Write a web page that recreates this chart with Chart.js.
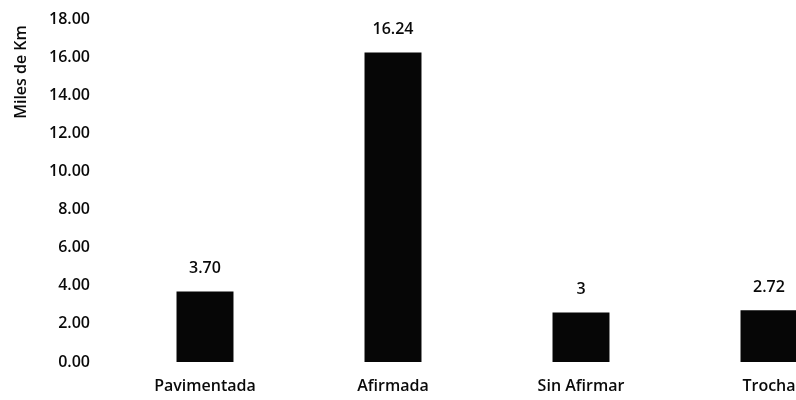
<!DOCTYPE html>
<html>
<head>
<meta charset="utf-8">
<script src="https://cdn.jsdelivr.net/npm/chart.js@4/dist/chart.umd.min.js"></script>
<style>
  html, body { margin: 0; padding: 0; background: #fff; overflow: hidden; }
  #wrap { width: 796px; height: 400px; overflow: hidden; }
  canvas { display: block; }
</style>
</head>
<body>
<div id="wrap"><canvas id="c" width="866" height="400"></canvas></div>
<script>
// Red vial por tipo de superficie (miles de km)
const categories = ['Pavimentada', 'Afirmada', 'Sin Afirmar', 'Trocha'];
const values = [3.70, 16.24, 2.6, 2.72];
const labelDecimals = [2, 2, 0, 2];
const yTicks = [0, 2, 4, 6, 8, 10, 12, 14, 16, 18];
const yTitle = 'Miles de Km';

const FONT = 'Open Sans';
const INK = '#0a0a0a';
const WEIGHT = 600;

// Value labels above each bar
const valueLabels = {
  id: 'valueLabels',
  afterDatasetsDraw(chart) {
    const ctx = chart.ctx;
    const meta = chart.getDatasetMeta(0);
    ctx.save();
    ctx.font = WEIGHT + ' 16px "' + FONT + '"';
    ctx.fillStyle = INK;
    ctx.textAlign = 'center';
    ctx.textBaseline = 'middle';
    meta.data.forEach((bar, i) => {
      const txt = values[i].toFixed(labelDecimals[i]);
      ctx.fillText(txt, bar.x, bar.y - 23);
    });
    ctx.restore();
  }
};

// Rotated axis title near the top of the value axis
const axisTitle = {
  id: 'axisTitle',
  afterDraw(chart) {
    const ctx = chart.ctx;
    ctx.save();
    ctx.font = WEIGHT + ' 16px "' + FONT + '"';
    ctx.fillStyle = INK;
    ctx.translate(21, 72);
    ctx.rotate(-Math.PI / 2);
    ctx.textAlign = 'center';
    ctx.textBaseline = 'middle';
    ctx.fillText(yTitle, 0, 0);
    ctx.restore();
  }
};

new Chart(document.getElementById('c'), {
  type: 'bar',
  data: {
    labels: categories,
    datasets: [{
      data: values,
      backgroundColor: '#060606',
      borderWidth: 0,
      categoryPercentage: 1,
      barPercentage: 0.303
    }]
  },
  options: {
    responsive: false,
    animation: false,
    layout: { padding: { top: 19, right: 3, left: 0, bottom: 0 } },
    plugins: { legend: { display: false }, tooltip: { enabled: false } },
    scales: {
      x: {
        grid: { display: false, drawTicks: false },
        border: { display: false },
        ticks: { color: INK, font: { family: FONT, size: 16, weight: WEIGHT }, padding: 15 },
        afterFit(axis) { axis.height = 38; }
      },
      y: {
        min: 0, max: 18,
        grid: { display: false, drawTicks: false },
        border: { display: false },
        afterBuildTicks(axis) { axis.ticks = yTicks.map(v => ({ value: v })); },
        ticks: {
          color: INK,
          font: { family: FONT, size: 16, weight: WEIGHT },
          padding: 21,
          callback: v => Number(v).toFixed(2)
        },
        afterFit(axis) {
          axis.width = 111;
          axis.paddingTop = 0;
          axis.paddingBottom = 0;
        }
      }
    }
  },
  plugins: [valueLabels, axisTitle]
});
</script>
</body>
</html>
